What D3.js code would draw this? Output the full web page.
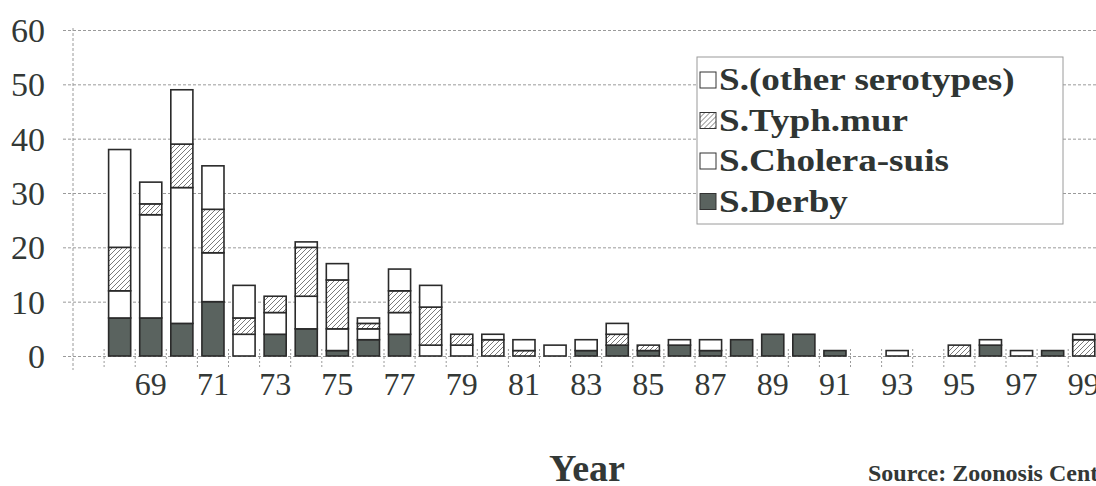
<!DOCTYPE html>
<html>
<head>
<meta charset="utf-8">
<script src="https://cdn.jsdelivr.net/npm/d3@7"></script>
<style>
  body { margin: 0; background: #fff; overflow: hidden; }
  svg { display: block; }
</style>
</head>
<body>
<div id="chart"></div>
<script>
// data (1968 - 1999)
var years = d3.range(1968, 2000);
var derby   = [7, 7, 6, 10, 0, 4, 5, 1, 3, 4, 0, 0, 0, 0, 0, 1, 2, 1, 2, 1, 3, 4, 4, 1, 0, 0, 0, 0, 2, 0, 1, 0];
var cholera = [5, 19, 25, 9, 4, 4, 6, 4, 2, 4, 2, 2, 0, 0, 0, 0, 0, 0, 0, 0, 0, 0, 0, 0, 0, 0, 0, 0, 0, 0, 0, 0];
var typh    = [8, 2, 8, 8, 3, 3, 9, 9, 1, 4, 7, 2, 3, 1, 0, 0, 2, 1, 0, 0, 0, 0, 0, 0, 0, 0, 0, 2, 0, 0, 0, 3];
var other   = [18, 4, 10, 8, 6, 0, 1, 3, 1, 4, 4, 0, 1, 2, 2, 2, 2, 0, 1, 2, 0, 0, 0, 0, 0, 1, 0, 0, 1, 1, 0, 1];

var yTicks = [0, 10, 20, 30, 40, 50, 60];
var xTickYears = d3.range(1969, 2000, 2);
var legendNames = ["S.(other serotypes)", "S.Typh.mur", "S.Cholera-suis", "S.Derby"];

var serif = "'Liberation Serif', 'DejaVu Serif', serif";
var textColor = "#333836";

// svg container
var svgWidth = 1096;
var svgHeight = 486;
var margin = { top: 30, left: 73, bottom: 130 };
var chartBottom = svgHeight - margin.bottom;   // y of zero line

var svg = d3.select("#chart").append("svg")
    .attr("width", svgWidth)
    .attr("height", svgHeight)
    .style("font-family", serif);

var defs = svg.append("defs");
var hatch = defs.append("pattern")
    .attr("id", "hatch")
    .attr("patternUnits", "userSpaceOnUse")
    .attr("width", 5)
    .attr("height", 5);
hatch.append("rect").attr("width", 5).attr("height", 5).attr("fill", "#fff");
hatch.append("path")
    .attr("d", "M-1,1 l2,-2 M0,5 l5,-5 M4,6 l2,-2")
    .attr("stroke", "#7a7a7a")
    .attr("stroke-width", 1);

// one empty slot in front of 1968
var slots = [1967].concat(years);
var step = 31.1;

var x = d3.scaleBand()
    .domain(slots)
    .range([margin.left, margin.left + slots.length * step])
    .paddingInner(0.29)
    .paddingOuter(0.145);

var y = d3.scaleLinear()
    .domain([0, 60])
    .range([chartBottom, margin.top]);

// grid + y labels
var yAxis = d3.axisLeft(y)
    .tickValues(yTicks)
    .tickSizeInner(-(svgWidth - 63))
    .tickSizeOuter(0)
    .tickPadding(18);

var yG = svg.append("g")
    .attr("transform", "translate(63,0)")
    .call(yAxis)
    .attr("font-family", serif);
yG.select(".domain").remove();
yG.selectAll("line")
    .attr("stroke", "#9a9a9a")
    .attr("stroke-dasharray", "3,2");
yG.selectAll("text")
    .attr("fill", textColor)
    .attr("font-size", "34px")
    .attr("dy", "0.34em");

// vertical axis line
svg.append("line")
    .attr("x1", margin.left).attr("x2", margin.left)
    .attr("y1", margin.top - 2).attr("y2", chartBottom + 14)
    .attr("stroke", "#9a9a9a")
    .attr("stroke-dasharray", "3,2");

// small ticks between slots
svg.append("g").selectAll("line")
    .data(d3.range(1, slots.length + 1))
    .enter()
    .append("line")
    .attr("x1", i => margin.left + i * x.step())
    .attr("x2", i => margin.left + i * x.step())
    .attr("y1", chartBottom - 7)
    .attr("y2", chartBottom + 12)
    .attr("stroke", "#9a9a9a")
    .attr("stroke-dasharray", "2,2");

// x labels
var xAxis = d3.axisBottom(x)
    .tickValues(xTickYears)
    .tickFormat(d => String(d).slice(2))
    .tickSize(0)
    .tickPadding(16);

var xG = svg.append("g")
    .attr("transform", `translate(0, ${chartBottom})`)
    .call(xAxis)
    .attr("font-family", serif);
xG.select(".domain").remove();
xG.selectAll("text")
    .attr("fill", textColor)
    .attr("font-size", "32px");

// stacked bars
var rows = years.map(function (yr, i) {
    return { year: yr, derby: derby[i], cholera: cholera[i], typh: typh[i], other: other[i] };
});
var keys = ["derby", "cholera", "typh", "other"];
var fills = { derby: "#5a635f", cholera: "#ffffff", typh: "url(#hatch)", other: "#ffffff" };

var series = d3.stack().keys(keys)(rows);

svg.append("g").selectAll("g")
    .data(series)
    .enter()
    .append("g")
    .attr("fill", d => fills[d.key])
    .selectAll("rect")
    .data(d => d.filter(p => p[1] > p[0]))
    .enter()
    .append("rect")
    .attr("x", d => x(d.data.year))
    .attr("width", x.bandwidth())
    .attr("y", d => y(d[1]))
    .attr("height", d => y(d[0]) - y(d[1]))
    .attr("stroke", "#2a2a2a")
    .attr("stroke-width", 1.6);

// legend
var legend = svg.append("g").attr("transform", "translate(697,57)");
legend.append("rect")
    .attr("width", 366)
    .attr("height", 167)
    .attr("fill", "#fff")
    .attr("stroke", "#9a9a9a");

var legendFills = ["#ffffff", "url(#hatch)", "#ffffff", "#5a635f"];
var item = legend.selectAll(".item")
    .data(legendNames)
    .enter()
    .append("g")
    .attr("class", "item")
    .attr("transform", (d, i) => `translate(0, ${23 + i * 40.5})`);

item.append("rect")
    .attr("x", 3)
    .attr("y", -8)
    .attr("width", 16)
    .attr("height", 16)
    .attr("fill", (d, i) => legendFills[i])
    .attr("stroke", "#333");

var labels = item.append("text")
    .attr("x", 22)
    .attr("y", 10)
    .attr("font-size", "32px")
    .attr("font-weight", "bold")
    .attr("fill", "#2f3533")
    .text(d => d);

// the scanned lettering is a little wider than the font
labels.each(function () {
    var w = this.getComputedTextLength();
    d3.select(this)
        .attr("textLength", w * 1.16)
        .attr("lengthAdjust", "spacingAndGlyphs");
});

// titles
svg.append("text")
    .attr("x", 587)
    .attr("y", 481)
    .attr("text-anchor", "middle")
    .attr("font-size", "38px")
    .attr("font-weight", "bold")
    .attr("fill", textColor)
    .text("Year");

svg.append("text")
    .attr("x", 868)
    .attr("y", 481)
    .attr("font-size", "24px")
    .attr("font-weight", "bold")
    .attr("fill", textColor)
    .text("Source: Zoonosis Centre");
</script>
</body>
</html>
